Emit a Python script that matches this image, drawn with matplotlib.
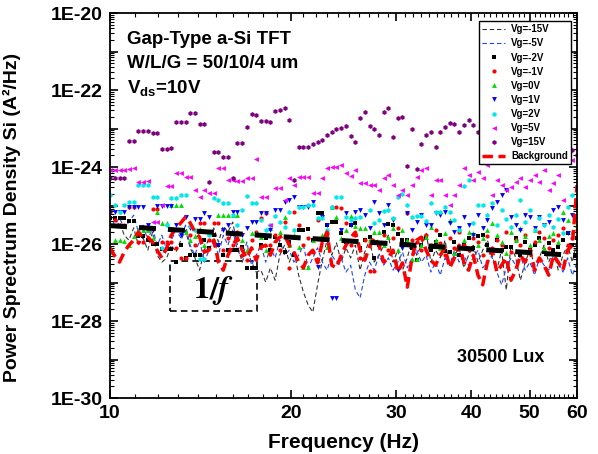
import numpy as np
import matplotlib
matplotlib.use('Agg')
import matplotlib.pyplot as plt
from matplotlib.ticker import FixedLocator, FuncFormatter, NullFormatter, LogLocator

# --- data: frequency grid (Hz) and log10 of the noise PSD (A^2/Hz) ---
freq = [10.00, 10.18, 10.37, 10.56, 10.75, 10.95, 11.15, 11.35, 11.56, 11.77,
        11.98, 12.20, 12.43, 12.65, 12.88, 13.12, 13.36, 13.60, 13.85, 14.10,
        14.36, 14.62, 14.89, 15.16, 15.44, 15.72, 16.01, 16.30, 16.60, 16.90,
        17.21, 17.52, 17.84, 18.17, 18.50, 18.84, 19.18, 19.53, 19.89, 20.25,
        20.62, 21.00, 21.38, 21.77, 22.17, 22.58, 22.99, 23.41, 23.84, 24.27,
        24.72, 25.17, 25.63, 26.10, 26.57, 27.06, 27.55, 28.06, 28.57, 29.09,
        29.62, 30.16, 30.71, 31.28, 31.85, 32.43, 33.02, 33.62, 34.24, 34.86,
        35.50, 36.15, 36.81, 37.48, 38.16, 38.86, 39.57, 40.29, 41.03, 41.78,
        42.54, 43.32, 44.11, 44.91, 45.73, 46.57, 47.42, 48.28, 49.17, 50.06,
        50.98, 51.91, 52.86, 53.82, 54.81, 55.81, 56.83, 57.86, 58.92, 60.00]

vg_m15 = [-25.51, -25.58, -25.43, -25.77, -25.90, -25.58, -26.03, -25.84, -26.16, -25.69,
          -26.29, -26.47, -26.36, -26.03, -26.21, -25.90, -25.64, -26.10, -26.36, -26.68,
          -26.16, -25.84, -25.58, -25.95, -25.53, -25.69, -25.43, -26.03, -26.47, -26.16,
          -26.47, -26.73, -26.68, -26.99, -26.62, -26.94, -26.29, -26.03, -26.47, -26.16,
          -26.81, -27.25, -27.58, -27.77, -27.06, -26.42, -25.90, -26.29, -25.97, -26.47,
          -26.10, -26.36, -26.03, -26.68, -26.21, -25.90, -26.47, -26.29, -26.03, -25.77,
          -26.47, -26.16, -26.68, -26.36, -25.90, -26.29, -26.03, -25.69, -26.47, -26.16,
          -26.36, -25.90, -26.55, -26.29, -26.10, -26.62, -26.29, -26.03, -26.47, -26.16,
          -25.90, -26.36, -26.68, -26.16, -27.19, -26.03, -26.36, -26.94, -26.47, -26.16,
          -26.55, -26.36, -26.03, -26.47, -26.16, -26.68, -26.29, -26.03, -26.47, -25.90]

vg_m5 = [-25.25, -25.51, -25.32, -25.58, -25.43, -25.25, -25.69, -25.51, -25.90, -25.58,
         -26.03, -25.77, -26.16, -25.90, -25.64, -25.84, -25.51, -26.03, -26.29, -25.90,
         -26.47, -26.16, -25.90, -26.29, -25.77, -26.03, -25.64, -26.16, -26.36, -25.95,
         -26.55, -26.29, -26.03, -26.47, -26.10, -26.36, -25.90, -26.29, -26.16, -26.47,
         -26.29, -26.03, -26.62, -26.36, -26.10, -26.47, -26.68, -26.29, -26.47, -26.36,
         -26.73, -26.55, -27.19, -27.40, -26.81, -26.47, -26.68, -26.29, -26.55, -26.36,
         -26.68, -26.47, -26.21, -26.62, -26.36, -26.16, -26.47, -26.29, -26.73, -26.47,
         -26.81, -26.36, -26.55, -26.16, -26.47, -26.29, -26.55, -26.36, -26.16, -26.62,
         -26.47, -26.29, -26.73, -27.06, -26.62, -26.36, -26.55, -26.29, -26.68, -26.47,
         -26.81, -26.36, -26.55, -26.68, -26.29, -26.47, -26.73, -26.36, -26.81, -26.47]

vg_m2 = [-25.32, -25.32, -25.32, -25.32, -25.40, -25.40, -25.79, -25.79, -25.90, -26.00,
         -26.00, -26.13, -26.13, -26.13, -26.47, -26.03, -26.36, -26.29, -26.29, -26.29,
         -25.90, -26.10, -25.77, -26.03, -26.29, -26.16, -26.16, -26.16, -26.08, -26.62,
         -26.62, -26.62, -26.03, -25.84, -26.16, -25.82, -26.03, -26.21, -25.95, -26.29,
         -25.64, -25.64, -25.61, -25.90, -25.19, -25.19, -25.51, -25.43, -25.43, -25.71,
         -25.95, -25.51, -25.45, -26.10, -25.90, -25.82, -26.36, -26.03, -25.69, -25.48,
         -25.51, -25.74, -25.90, -25.90, -26.10, -26.42, -26.03, -25.84, -26.16, -25.95,
         -25.77, -26.18, -26.21, -25.95, -26.29, -26.03, -25.84, -26.10, -25.79, -25.77,
         -26.03, -26.21, -25.90, -26.16, -26.08, -26.08, -25.84, -26.29, -25.95, -26.16,
         -26.03, -25.84, -26.21, -25.97, -26.16, -26.08, -25.90, -25.71, -26.03, -25.84]

vg_m1 = [-25.17, -25.38, -25.51, -25.51, -25.04, -25.04, -25.95, -25.95, -25.64, -25.09,
         -25.09, -25.95, -25.95, -25.95, -26.10, -26.36, -26.36, -25.77, -26.03, -25.45,
         -25.45, -25.90, -25.45, -25.45, -26.16, -25.84, -26.03, -25.69, -26.29, -26.42,
         -25.90, -25.69, -25.32, -25.19, -26.03, -25.77, -26.16, -25.43, -26.62, -25.17,
         -25.51, -26.03, -25.84, -26.21, -25.38, -25.90, -25.71, -25.04, -25.04, -25.06,
         -25.45, -26.03, -25.77, -26.36, -25.90, -26.70, -26.70, -26.03, -25.77, -26.16,
         -25.84, -25.58, -26.03, -25.19, -25.90, -25.95, -26.16, -25.77, -26.03, -25.64,
         -25.97, -26.29, -25.84, -26.10, -25.69, -26.03, -26.16, -25.84, -25.95, -26.29,
         -25.79, -26.10, -25.90, -26.03, -25.69, -26.21, -25.90, -26.03, -25.77, -26.16,
         -25.95, -25.69, -25.84, -26.10, -25.90, -25.77, -25.58, -26.03, -25.84, -25.64]

vg_0 = [-26.21, -25.90, -25.90, -25.92, -26.03, -25.79, -25.64, -25.64, -25.64, -25.84,
        -25.17, -25.45, -25.45, -24.99, -24.99, -24.99, -25.69, -25.90, -25.79, -25.61,
        -26.03, -25.71, -25.90, -25.25, -25.25, -25.25, -25.25, -25.25, -25.90, -26.16,
        -25.71, -25.71, -25.82, -26.16, -25.58, -25.90, -25.69, -25.30, -26.03, -25.77,
        -26.08, -26.60, -26.60, -25.90, -26.42, -25.77, -26.08, -25.04, -25.30, -25.84,
        -25.64, -25.27, -25.53, -25.58, -25.58, -25.90, -25.69, -25.69, -26.03, -25.82,
        -25.58, -26.16, -25.64, -25.90, -26.39, -26.39, -26.03, -25.82, -25.56, -25.90,
        -26.10, -25.71, -25.38, -26.23, -25.58, -25.90, -25.69, -25.71, -26.03, -25.84,
        -25.64, -25.45, -25.77, -25.95, -26.23, -25.69, -25.90, -25.58, -25.79, -26.03,
        -25.64, -25.90, -26.10, -25.79, -25.71, -25.95, -25.17, -25.38, -25.69, -25.51]

vg_1 = [-25.17, -25.17, -25.17, -25.17, -25.04, -25.04, -25.04, -25.04, -25.51, -25.64,
        -25.01, -25.01, -25.01, -25.01, -25.51, -25.77, -25.30, -25.58, -25.35, -25.35,
        -25.19, -25.30, -26.03, -26.03, -25.64, -25.51, -25.17, -25.17, -25.77, -25.58,
        -25.43, -25.43, -25.19, -25.19, -25.64, -25.12, -25.12, -24.91, -24.86, -24.78,
        -25.04, -25.04, -25.04, -24.91, -26.60, -25.30, -25.51, -27.40, -27.40, -25.64,
        -25.19, -25.51, -25.17, -25.12, -25.25, -25.58, -24.91, -25.19, -25.51, -24.99,
        -25.38, -26.68, -26.10, -25.19, -25.64, -25.43, -25.25, -25.51, -25.51, -25.19,
        -25.25, -25.17, -25.45, -25.69, -25.58, -25.30, -25.51, -25.77, -25.25, -25.58,
        -25.38, -25.06, -24.91, -24.73, -24.60, -25.30, -25.51, -25.64, -25.25, -25.30,
        -25.58, -25.30, -25.51, -25.43, -25.12, -25.04, -25.38, -25.71, -25.25, -24.99]

vg_2 = [-24.73, -24.99, -25.17, -24.99, -24.91, -24.91, -24.47, -24.47, -24.47, -24.78,
        -24.78, -26.10, -25.51, -24.81, -24.81, -24.73, -24.73, -25.53, -25.64, -26.39,
        -26.39, -25.77, -24.81, -24.86, -24.94, -24.94, -25.25, -25.51, -25.12, -24.75,
        -24.94, -24.94, -25.38, -25.64, -25.51, -25.27, -25.43, -25.56, -25.17, -25.64,
        -25.04, -25.04, -24.99, -24.99, -25.32, -25.32, -25.64, -25.04, -24.78, -24.78,
        -25.30, -25.38, -25.32, -25.30, -26.31, -25.12, -25.45, -25.38, -25.14, -25.12,
        -25.32, -24.78, -24.70, -24.99, -25.30, -25.27, -25.27, -25.40, -24.94, -25.17,
        -25.17, -25.04, -25.17, -25.38, -25.64, -24.49, -24.34, -25.45, -24.99, -24.99,
        -25.25, -24.94, -25.51, -25.12, -25.35, -25.56, -25.25, -24.86, -25.43, -25.12,
        -25.64, -25.32, -25.51, -25.25, -25.56, -25.35, -25.71, -25.04, -24.73, -24.52]

vg_5 = [-24.08, -24.08, -24.08, -24.08, -24.05, -24.03, -24.39, -24.39, -24.36, -25.43,
        -25.43, -24.99, -24.49, -24.49, -24.16, -24.16, -24.26, -24.26, -24.60, -24.78,
        -24.60, -24.68, -24.68, -24.03, -24.03, -24.34, -24.34, -24.36, -24.36, -24.29,
        -24.29, -23.79, -24.78, -24.78, -25.51, -24.55, -24.55, -24.86, -24.29, -24.47,
        -24.26, -24.26, -24.26, -24.68, -24.68, -24.29, -24.03, -24.00, -24.00, -23.95,
        -24.16, -24.23, -24.08, -24.42, -24.42, -24.47, -24.47, -24.60, -24.29, -24.21,
        -24.47, -24.73, -24.60, -24.73, -24.47, -24.26, -24.08, -24.03, -24.73, -24.34,
        -24.34, -24.73, -24.99, -24.73, -24.47, -24.03, -24.21, -24.34, -24.13, -24.29,
        -23.95, -24.73, -24.34, -24.47, -24.60, -24.52, -24.39, -24.29, -24.52, -24.34,
        -24.21, -24.39, -24.08, -24.60, -24.42, -24.21, -24.86, -23.58, -23.82, -23.56]

vg_15 = [-24.29, -24.29, -24.29, -24.29, -23.32, -23.32, -23.06, -23.06, -23.06, -23.12,
         -23.12, -23.53, -23.53, -23.51, -22.83, -22.83, -22.83, -22.60, -22.60, -22.88,
         -22.88, -24.39, -23.61, -23.61, -23.74, -23.74, -24.29, -23.38, -23.38, -22.96,
         -22.62, -22.65, -22.81, -22.81, -22.83, -22.55, -22.52, -22.47, -22.78, -24.34,
         -23.48, -23.48, -23.48, -23.40, -23.35, -23.30, -23.17, -23.10, -23.00, -22.99,
         -22.94, -23.20, -23.35, -22.73, -22.57, -22.94, -23.00, -23.17, -22.57, -22.47,
         -23.22, -22.73, -22.70, -23.97, -23.01, -24.05, -23.40, -23.17, -23.09, -23.48,
         -23.09, -22.96, -22.86, -22.88, -23.09, -22.91, -22.78, -22.90, -23.10, -22.80,
         -23.20, -23.00, -22.70, -22.90, -23.30, -23.10, -22.80, -23.00, -23.20, -22.90,
         -22.70, -23.10, -23.30, -22.80, -23.00, -23.20, -22.60, -23.30, -23.56, -23.70]

background = [-26.10, -26.31, -26.47, -26.21, -26.03, -25.90, -25.69, -25.84, -25.82, -25.95,
              -26.16, -26.36, -26.10, -25.77, -25.58, -25.45, -25.30, -25.45, -25.69, -25.82,
              -26.21, -26.16, -25.90, -26.47, -26.68, -26.29, -26.03, -25.84, -26.16, -26.36,
              -26.10, -26.42, -26.08, -26.03, -26.29, -25.95, -25.82, -25.77, -26.03, -26.21,
              -26.47, -26.62, -26.29, -26.16, -26.49, -25.95, -25.69, -26.55, -26.62, -26.29,
              -26.03, -25.84, -25.69, -26.16, -26.42, -26.08, -25.82, -26.03, -26.47, -26.36,
              -26.16, -26.73, -26.49, -27.12, -26.36, -25.90, -25.82, -26.16, -26.42, -26.55,
              -26.29, -26.10, -26.62, -26.36, -26.03, -26.47, -26.68, -26.29, -26.81, -27.06,
              -26.47, -26.16, -26.73, -26.55, -26.36, -26.94, -26.68, -26.29, -26.47, -26.16,
              -26.68, -26.36, -26.55, -26.81, -26.29, -26.47, -26.68, -26.16, -26.03, -24.47]

# 1/f guide line end points
fit_freq = [10, 60]
fit_psd = [3.0e-26, 5.0e-27]

plt.rcParams['font.family'] = ['Liberation Sans', 'DejaVu Sans']
plt.rcParams['font.weight'] = 'bold'
plt.rcParams['mathtext.fontset'] = 'custom'
plt.rcParams['mathtext.rm'] = 'Liberation Sans:bold'
plt.rcParams['mathtext.it'] = 'Liberation Sans:bold'
plt.rcParams['mathtext.bf'] = 'Liberation Sans:bold'

fig = plt.figure(figsize=(5.98, 4.54), dpi=100)
ax = fig.add_axes([0.184, 0.1233, 0.781, 0.848])

f = np.array(freq)
ax.plot(f, 10.0 ** np.array(vg_m15), color='#333333', lw=0.8, ls=(0, (4, 2.5)), label='Vg=-15V')
ax.plot(f, 10.0 ** np.array(vg_m5), color='#2244ff', lw=0.8, ls=(0, (4, 2.5)), label='Vg=-5V')
ax.plot(f, 10.0 ** np.array(vg_m2), 's', color='black', ms=3, mew=0, label='Vg=-2V')
ax.plot(f, 10.0 ** np.array(vg_m1), 'o', color='#ff0000', ms=3, mew=0, label='Vg=-1V')
ax.plot(f, 10.0 ** np.array(vg_0), '^', color='#00dd00', ms=3.5, mew=0, label='Vg=0V')
ax.plot(f, 10.0 ** np.array(vg_1), 'v', color='#0000ff', ms=3.5, mew=0, label='Vg=1V')
ax.plot(f, 10.0 ** np.array(vg_2), 'h', color='#00e8e8', ms=3.5, mew=0, label='Vg=2V')
ax.plot(f, 10.0 ** np.array(vg_5), '<', color='#ff00ff', ms=3.5, mew=0, label='Vg=5V')
ax.plot(f, 10.0 ** np.array(vg_15), 'h', color='#800080', ms=3.5, mew=0, label='Vg=15V')
ax.plot(f, 10.0 ** np.array(background), color='#ff0000', lw=2.5, ls=(0, (3, 1.6)), label='Background')
ax.plot(fit_freq, fit_psd, color='black', lw=3.6, ls=(0, (3.4, 2.4)))

# --- axes ---
ax.set_xscale('log')
ax.set_yscale('log')
ax.set_xlim(10, 60)
ax.set_ylim(1e-30, 1e-20)

ax.xaxis.set_major_locator(FixedLocator([10, 20, 30, 40, 50, 60]))
ax.xaxis.set_major_formatter(FuncFormatter(lambda v, p: '%d' % round(v)))
ax.xaxis.set_minor_locator(FixedLocator([v for v in range(11, 60) if v % 10 != 0]))
ax.xaxis.set_minor_formatter(NullFormatter())

ax.yaxis.set_major_locator(FixedLocator([10.0 ** e for e in range(-30, -19)]))
ax.yaxis.set_major_formatter(FuncFormatter(
    lambda v, p: '1E%d' % round(np.log10(v)) if round(np.log10(v)) % 2 == 0 else ''))
ax.yaxis.set_minor_locator(LogLocator(base=10, subs=np.arange(2, 10), numticks=200))
ax.yaxis.set_minor_formatter(NullFormatter())

ax.tick_params(which='both', direction='in', top=True, right=True, labelsize=14)
ax.tick_params(which='major', length=6, width=1.2, pad=5)
ax.tick_params(which='minor', length=3, width=0.8)
for s in ax.spines.values():
    s.set_linewidth(1.3)

ax.set_xlabel('Frequency (Hz)', fontsize=15, fontweight='bold', labelpad=8)
ax.set_ylabel('Power Sprectrum Density Si (A²/Hz)', fontsize=14, fontweight='bold')
ax.yaxis.set_label_coords(-0.19, 0.47)

# --- annotations ---
ax.text(0.036, 0.93, 'Gap-Type a-Si TFT', transform=ax.transAxes, fontsize=13.5, fontweight='bold', va='center')
ax.text(0.036, 0.87, 'W/L/G = 50/10/4 um', transform=ax.transAxes, fontsize=13.5, fontweight='bold', va='center')
ax.text(0.036, 0.805, r'V$_{\mathregular{ds}}$=10V', transform=ax.transAxes, fontsize=13.5, fontweight='bold', va='center')
ax.text(0.931, 0.106, '30500 Lux', transform=ax.transAxes, fontsize=13, fontweight='bold', ha='right', va='center')

box = plt.Rectangle((0.128, 0.226), 0.187, 0.130, transform=ax.transAxes, fill=False,
                    ec='black', lw=1.2, ls=(0, (4, 2.5)))
ax.add_patch(box)
ax.text(0.222, 0.278, r'$\mathbf{1}/\boldsymbol{f}$', transform=ax.transAxes, fontsize=23,
        ha='center', va='center', math_fontfamily='stix')

leg = ax.legend(loc='upper right', bbox_to_anchor=(0.987, 0.978), fontsize=7, frameon=True,
                fancybox=False, edgecolor='black', framealpha=1, labelspacing=0.42,
                handlelength=2.4, borderpad=0.3, handletextpad=0.6, borderaxespad=0)
leg.get_frame().set_linewidth(1.0)
for t in leg.get_texts():
    t.set_fontweight('bold')

plt.savefig('out.png', dpi=100)
